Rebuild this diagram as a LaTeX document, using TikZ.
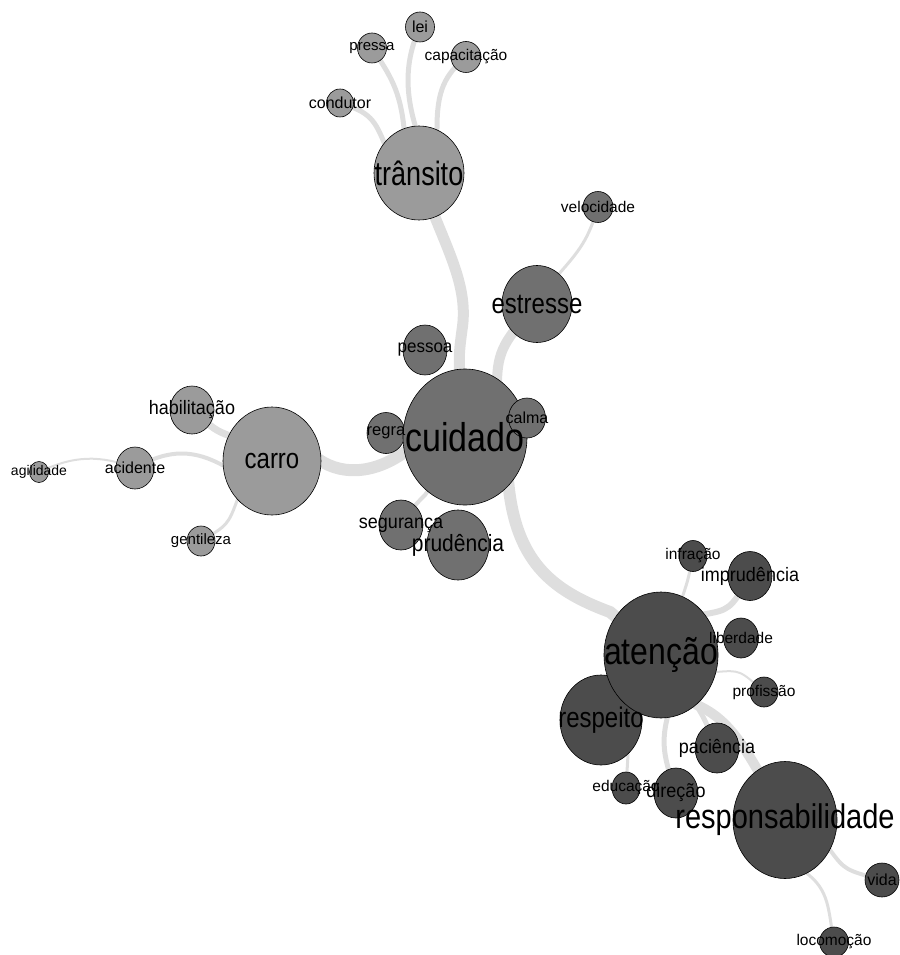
\documentclass[tikz,border=0pt]{standalone}
\usepackage{tikz}
\usepackage{xcolor}
\usepackage{graphicx}
\usepackage{fontspec}
\setmainfont{Liberation Sans}
\usetikzlibrary{shapes.geometric, backgrounds, positioning}

\definecolor{grupoA}{HTML}{9B9B9B}
\definecolor{grupoB}{HTML}{707070}
\definecolor{grupoC}{HTML}{4C4C4C}
\definecolor{cinzaliga}{HTML}{DEDEDE}
\newcommand{\alto}[2]{\scalebox{1}[#1]{#2}}

\begin{document}
\begin{tikzpicture}[x=1pt, y=-1pt,
    bola/.style={ellipse, draw=black, line width=0.6pt, inner sep=0pt, outer sep=0pt},
    bolaA/.style={bola, fill=grupoA},
    bolaB/.style={bola, fill=grupoB},
    bolaC/.style={bola, fill=grupoC},
    tam/.style 2 args={minimum width=#1pt, minimum height=#2pt},
    rot/.style={font=\fontsize{#1pt}{#1pt}\selectfont, text=black, inner sep=0pt},
    liga/.style={draw=cinzaliga, line width=#1}]
      \useasboundingbox (0,0) rectangle (899,955);

      % bolas
      \node[bolaA, tam={90}{94}] (transito) at (419,173) {};
      \node[bolaA, tam={29}{30}] (lei) at (420,27) {};
      \node[bolaA, tam={29}{30}] (pressa) at (372,48) {};
      \node[bolaA, tam={30}{31}] (capacitacao) at (466,57) {};
      \node[bolaA, tam={27}{28}] (condutor) at (340,103) {};
      \node[bolaA, tam={98}{108}] (carro) at (272,461) {};
      \node[bolaA, tam={44}{48}] (habilitacao) at (192,410) {};
      \node[bolaA, tam={38}{42}] (acidente) at (135,468) {};
      \node[bolaA, tam={19}{21}] (agilidade) at (39,472) {};
      \node[bolaA, tam={28}{30}] (gentileza) at (201,541) {};

      \node[bolaB, tam={38}{41}] (regra) at (386,433) {};
      \node[bolaB, tam={44}{50}] (pessoa) at (425,350) {};
      \node[bolaB, tam={124}{136}] (cuidado) at (465,437) {};
      \node[bolaB, tam={37}{40}] (calma) at (527,418) {};
      \node[bolaB, tam={70}{77}] (estresse) at (537,304) {};
      \node[bolaB, tam={30}{31}] (velocidade) at (598,207) {};
      \node[bolaB, tam={44}{50}] (seguranca) at (401,525) {};
      \node[bolaB, tam={62}{70}] (prudencia) at (458,545) {};

      \node[bolaC, tam={82}{90}] (respeito) at (601,720) {};
      \node[bolaC, tam={114}{126}] (atencao) at (661,655) {};
      \node[bolaC, tam={28}{31}] (infracao) at (693,556) {};
      \node[bolaC, tam={44}{49}] (imprudencia) at (750,576) {};
      \node[bolaC, tam={35}{40}] (liberdade) at (741,638) {};
      \node[bolaC, tam={28}{30}] (profissao) at (764,692) {};
      \node[bolaC, tam={44}{50}] (paciencia) at (717,748) {};
      \node[bolaC, tam={28}{32}] (educacao) at (626,788) {};
      \node[bolaC, tam={44}{50}] (direcao) at (676,793) {};
      \node[bolaC, tam={104}{117}] (responsabilidade) at (785,820) {};
      \node[bolaC, tam={34}{34}] (vida) at (882,880) {};
      \node[bolaC, tam={29}{30}] (locomocao) at (834,942) {};

      % ligacoes
      \begin{pgfonlayer}{background}
      \draw[liga=11pt] (transito.center) .. controls (440,240) and (470,280) .. (462,330) .. controls (458,360) .. (cuidado.center);
      \draw[liga=10pt] (cuidado.center) -- (497,385) .. controls (497,350) and (505,340) .. (estresse.center);
      \draw[liga=3pt] (estresse.center) -- (558,275) .. controls (580,250) and (588,240) .. (velocidade.center);
      \draw[liga=5pt] (transito.center) -- (415,125) .. controls (405,90) and (405,60) .. (lei.center);
      \draw[liga=5pt] (transito.center) -- (404,128) .. controls (400,90) and (390,75) .. (pressa.center);
      \draw[liga=5pt] (transito.center) -- (437,128) .. controls (437,90) and (445,75) .. (capacitacao.center);
      \draw[liga=5pt] (transito.center) -- (385,145) .. controls (375,120) and (370,112) .. (condutor.center);
      \draw[liga=12pt] (carro.center) -- (318,459) .. controls (345,478) and (380,472) .. (410,448) -- (cuidado.center);
      \draw[liga=7pt] (carro.center) -- (230,436) .. controls (215,430) .. (habilitacao.center);
      \draw[liga=4pt] (carro.center) -- (224,466) .. controls (195,450) and (170,448) .. (acidente.center);
      \draw[liga=2pt] (acidente.center) .. controls (100,455) and (75,455) .. (agilidade.center);
      \draw[liga=3pt] (carro.center) -- (238,498) .. controls (228,525) .. (gentileza.center);
      \draw[liga=4pt] (cuidado.center) -- (425,495) .. controls (415,505) .. (seguranca.center);
      \draw[liga=12pt] (cuidado.center) -- (508,480) .. controls (515,560) and (550,590) .. (610,612) -- (atencao.center);
      \draw[liga=3pt] (atencao.center) -- (683,595) .. controls (688,580) .. (infracao.center);
      \draw[liga=6pt] (atencao.center) -- (700,615) .. controls (730,610) .. (imprudencia.center);
      \draw[liga=2pt] (atencao.center) -- (716,672) .. controls (740,670) .. (profissao.center);
      \draw[liga=5pt] (atencao.center) -- (698,708) .. controls (705,720) .. (paciencia.center);
      \draw[liga=5pt] (atencao.center) -- (668,715) .. controls (660,745) and (665,760) .. (direcao.center);
      \draw[liga=10pt] (atencao.center) -- (697,705) .. controls (730,720) and (745,745) .. (responsabilidade.center);
      \draw[liga=3pt] (respeito.center) -- (628,755) -- (educacao.center);
      \draw[liga=4pt] (responsabilidade.center) -- (830,850) .. controls (845,870) .. (vida.center);
      \draw[liga=3pt] (responsabilidade.center) -- (805,872) .. controls (830,890) and (828,910) .. (locomocao.center);
      \end{pgfonlayer}

      % rotulos
      \node[rot=27] (transito-r) at (transito) {\alto{1.25}{trânsito}};
      \node[rot=16] (lei-r) at (lei) {lei};
      \node[rot=15] (pressa-r) at (pressa) {pressa};
      \node[rot=15.5] (capacitacao-r) at (capacitacao) {capacitação};
      \node[rot=16] (condutor-r) at (condutor) {condutor};
      \node[rot=24] (carro-r) at (carro) {\alto{1.18}{carro}};
      \node[rot=18] (habilitacao-r) at (habilitacao) {\alto{1.08}{habilitação}};
      \node[rot=16] (acidente-r) at (acidente) {acidente};
      \node[rot=14] (agilidade-r) at (agilidade) {agilidade};
      \node[rot=15] (gentileza-r) at (gentileza) {gentileza};
      \node[rot=16.5] (regra-r) at (regra) {regra};
      \node[rot=17] (pessoa-r) at (pessoa) {\alto{1.05}{pessoa}};
      \node[rot=34] (cuidado-r) at (cuidado) {\alto{1.18}{cuidado}};
      \node[rot=16] (calma-r) at (calma) {calma};
      \node[rot=24] (estresse-r) at (estresse) {\alto{1.18}{estresse}};
      \node[rot=15.5] (velocidade-r) at (velocidade) {velocidade};
      \node[rot=18] (seguranca-r) at (seguranca) {\alto{1.08}{segurança}};
      \node[rot=21] (prudencia-r) at (prudencia) {\alto{1.12}{prudência}};
      \node[rot=24] (respeito-r) at (respeito) {\alto{1.18}{respeito}};
      \node[rot=32] (atencao-r) at (atencao) {\alto{1.18}{atenção}};
      \node[rot=15.5] (infracao-r) at (infracao) {infração};
      \node[rot=18] (imprudencia-r) at (imprudencia) {\alto{1.08}{imprudência}};
      \node[rot=15.5] (liberdade-r) at (liberdade) {liberdade};
      \node[rot=15.5] (profissao-r) at (profissao) {profissão};
      \node[rot=18] (paciencia-r) at (paciencia) {\alto{1.08}{paciência}};
      \node[rot=15.5] (educacao-r) at (educacao) {educação};
      \node[rot=18] (direcao-r) at (direcao) {\alto{1.08}{direção}};
      \node[rot=29] (responsabilidade-r) at (responsabilidade) {\alto{1.18}{responsabilidade}};
      \node[rot=16] (vida-r) at (vida) {vida};
      \node[rot=15.5] (locomocao-r) at (locomocao) {locomoção};
  \end{tikzpicture}
\end{document}
